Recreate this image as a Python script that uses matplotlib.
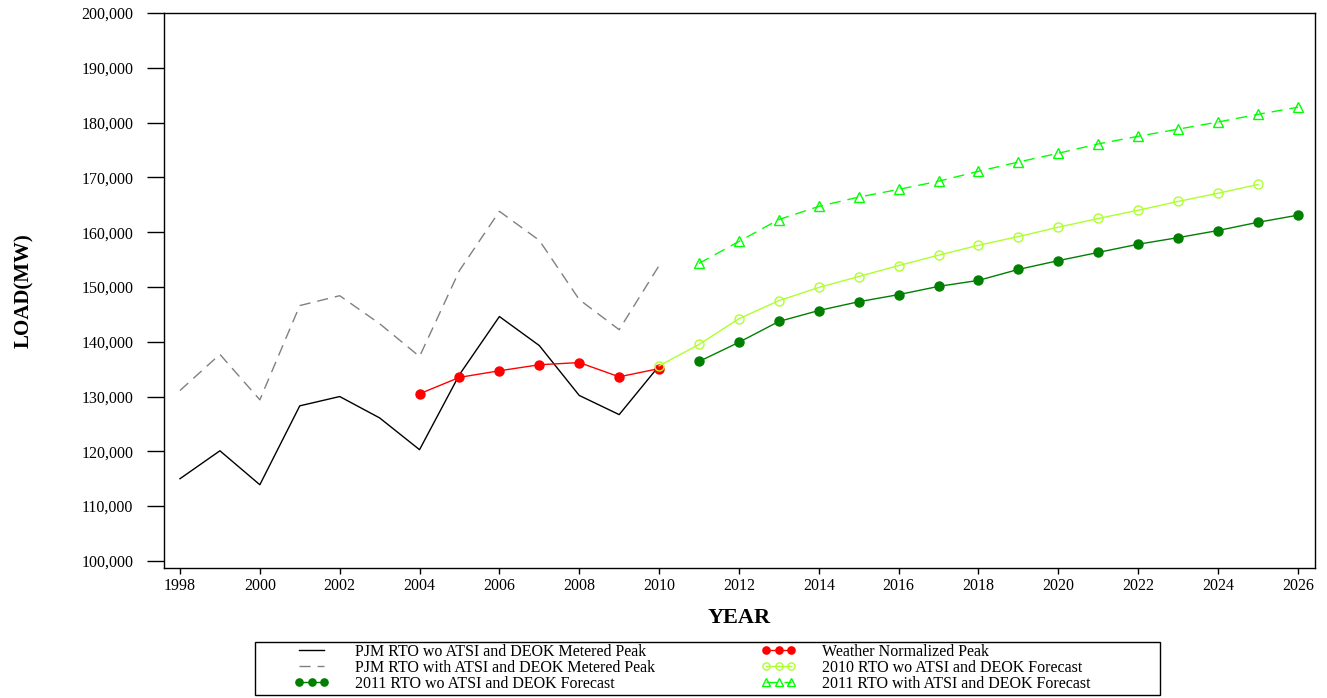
import matplotlib
matplotlib.use("Agg")
import matplotlib.pyplot as plt
from matplotlib.ticker import FuncFormatter, MultipleLocator
from matplotlib.patches import Rectangle

plt.rcParams['font.family'] = ['Liberation Serif', 'DejaVu Serif']

years_hist = list(range(1998, 2011))
metered_wo = [115000, 120100, 113900, 128300, 130000, 126100, 120300, 134000,
              144600, 139300, 130200, 126700, 135600]
metered_with = [131100, 137700, 129400, 146600, 148400, 143300, 137300, 153000,
                163800, 158500, 147700, 142200, 153900]

years_wn = list(range(2004, 2011))
weather_norm = [130500, 133500, 134700, 135800, 136200, 133600, 135100]

years_f2010 = list(range(2010, 2026))
fc2010_wo = [135600, 139500, 144200, 147500, 149900, 151900, 153900, 155800,
             157600, 159200, 160900, 162500, 164000, 165600, 167100, 168700]

years_f2011 = list(range(2011, 2027))
fc2011_wo = [136400, 139900, 143700, 145700, 147300, 148600, 150100, 151200,
             153200, 154800, 156300, 157800, 159000, 160300, 161800, 163100]
fc2011_with = [154300, 158300, 162300, 164700, 166400, 167800, 169300, 171100,
               172800, 174400, 176100, 177500, 178800, 180100, 181500, 182800]

labels = ["PJM RTO wo ATSI and DEOK Metered Peak",
          "PJM RTO with ATSI and DEOK Metered Peak",
          "2011 RTO wo ATSI and DEOK Forecast",
          "Weather Normalized Peak",
          "2010 RTO wo ATSI and DEOK Forecast",
          "2011 RTO with ATSI and DEOK Forecast"]

fig = plt.figure(figsize=(13.27, 6.98), dpi=100)
ax = fig.add_axes([0.1236, 0.1862, 0.991 - 0.1236, 0.9814 - 0.1862])

h1, = ax.plot(years_hist, metered_wo, color='black', lw=1.0)
h2, = ax.plot(years_hist, metered_with, color='#808080', lw=1.0, dashes=(8, 5))
h4, = ax.plot(years_wn, weather_norm, color='red', lw=1.0, marker='o', ms=6.5,
              mfc='red', mec='red')
h5, = ax.plot(years_f2010, fc2010_wo, color='#ADFF2F', lw=1.0, marker='o', ms=6.5,
              mfc='none', mec='#ADFF2F', mew=1.0)
h3, = ax.plot(years_f2011, fc2011_wo, color='#007F00', lw=1.0, marker='o', ms=6.5,
              mfc='#007F00', mec='#007F00')
h6, = ax.plot(years_f2011, fc2011_with, color='#00FF00', lw=1.0, marker='^', ms=6.5,
              mfc='none', mec='#00FF00', mew=1.0, dashes=(8, 5))

ax.set_xlim(1997.6, 2026.43)
ax.set_ylim(98700, 200000)
ax.xaxis.set_major_locator(MultipleLocator(2))
ax.yaxis.set_major_locator(MultipleLocator(10000))
ax.yaxis.set_major_formatter(FuncFormatter(lambda v, p: f"{int(v):,}"))
ax.tick_params(axis='y', direction='out', length=12, width=1, labelsize=11.5, pad=10)
ax.tick_params(axis='x', direction='out', length=4.3, width=1, labelsize=11.5, pad=3)
for s in ax.spines.values():
    s.set_linewidth(1.0)

ax.set_xlabel("YEAR", fontsize=16, fontweight='bold', labelpad=10)
ax.set_ylabel("LOAD(MW)", fontsize=15, fontweight='bold', labelpad=34)

fig.patches.append(Rectangle((255 / 1327, 1 - 695 / 698), (1160 - 255) / 1327, (695 - 642) / 698,
                             transform=fig.transFigure, fill=False, edgecolor='black', lw=1.0))

leg = fig.legend([h1, h2, h3, h4, h5, h6], labels, ncol=2, frameon=False,
                 loc='center left', bbox_to_anchor=(286 / 1327, 1 - 668 / 698),
                 fontsize=11.5, numpoints=3, handlelength=2.2, handletextpad=1.6,
                 columnspacing=6.65, labelspacing=0.0, borderpad=0.0, markerscale=0.8)

fig.savefig("out.png", dpi=100)
